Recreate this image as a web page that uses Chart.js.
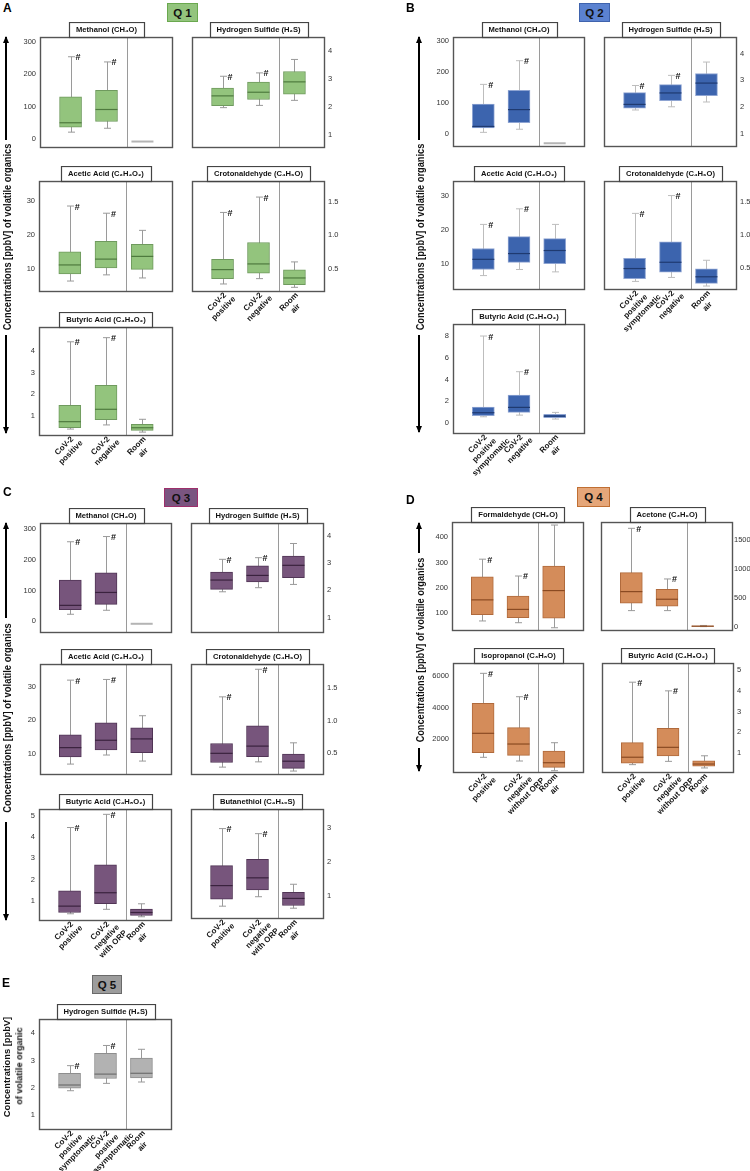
<!DOCTYPE html>
<html>
<head>
<meta charset="utf-8">
<script src="https://cdn.jsdelivr.net/npm/chart.js@4.4.1/dist/chart.umd.min.js"></script>
<style>
  body { margin: 0; background: #fff; width: 750px; height: 1171px; position: relative; overflow: hidden;
         font-family: "Liberation Sans", Arial, sans-serif; }
  canvas { position: absolute; }
  .abs { position: absolute; white-space: nowrap; }
  .letter { font-weight: bold; font-size: 12px; line-height: 12px; color: #000; }
  .qbox { display: flex; align-items: center; justify-content: center; font-weight: bold; font-size: 11.5px;
          box-sizing: border-box; border: 1.5px solid; color: #111; }
  .ylab { font-weight: bold; font-size: 10px; line-height: 10px; color: #111; }
</style>
</head>
<body>
<script>
// categories (x labels)
const catsPosNeg = [["CoV-2", "positive"], ["CoV-2", "negative"], ["Room", "air"]];
const catsSymNeg = [["CoV-2", "positive", "symptomatic"], ["CoV-2", "negative"], ["Room", "air"]];
const catsWithOrp = [["CoV-2", "positive"], ["CoV-2", "negative", "with ORP"], ["Room", "air"]];
const catsWithoutOrp = [["CoV-2", "positive"], ["CoV-2", "negative", "without ORP"], ["Room", "air"]];
const catsSymAsym = [["CoV-2", "positive", "symptomatic"], ["CoV-2", "positive", "asymptomatic"], ["Room", "air"]];

// boxes: [min, q1, median, q3, max] for each group
// Q1
const q1Methanol = [[21, 36, 50, 130, 254], [33, 54, 91, 150, 238], [-8, -8, -8, -8, -8]];
const q1H2S = [[1.98, 2.05, 2.40, 2.68, 3.10], [2.06, 2.27, 2.53, 2.89, 3.22], [2.24, 2.46, 2.90, 3.27, 3.70]];
const q1Acetic = [[6.5, 8.6, 11.2, 15.0, 28.4], [8.3, 10.3, 12.9, 18.1, 26.3], [7.4, 9.9, 13.7, 17.2, 21.3]];
const q1Croton = [[0.27, 0.35, 0.485, 0.64, 1.34], [0.35, 0.43, 0.57, 0.89, 1.57], [0.22, 0.26, 0.36, 0.48, 0.60]];
const q1Butyric = [[0.40, 0.46, 0.74, 1.49, 4.42], [0.59, 0.83, 1.31, 2.41, 4.61], [0.26, 0.34, 0.46, 0.62, 0.85]];
// Q2
const q2Methanol = [[6, 20, 25, 97, 160], [16, 37, 79, 141, 236], [-29, -29, -29, -29, -29]];
const q2H2S = [[1.89, 1.96, 2.10, 2.54, 2.81], [2.01, 2.24, 2.53, 2.84, 3.19], [2.19, 2.43, 2.90, 3.26, 3.69]];
const q2Acetic = [[6.6, 8.4, 11.4, 14.6, 21.7], [8.4, 10.5, 13.1, 18.1, 26.3], [7.7, 10.1, 14.0, 17.5, 21.7]];
const q2Croton = [[0.30, 0.34, 0.495, 0.65, 1.33], [0.36, 0.44, 0.59, 0.90, 1.60], [0.23, 0.27, 0.37, 0.49, 0.62]];
const q2Butyric = [[0.58, 0.67, 0.95, 1.47, 7.98], [0.73, 0.98, 1.44, 2.57, 4.71], [0.37, 0.49, 0.64, 0.80, 0.98]];
// Q3
const q3Methanol = [[23, 38, 52, 134, 259], [36, 55, 94, 158, 276], [-8, -8, -8, -8, -8]];
const q3H2S = [[1.95, 2.04, 2.38, 2.67, 3.14], [2.10, 2.31, 2.55, 2.90, 3.20], [2.22, 2.47, 2.92, 3.26, 3.72]];
const q3Acetic = [[7.0, 9.1, 11.9, 15.7, 32.0], [9.7, 11.2, 14.1, 19.3, 32.2], [7.9, 10.4, 14.5, 17.8, 21.4]];
const q3Croton = [[0.29, 0.36, 0.50, 0.65, 1.36], [0.37, 0.45, 0.61, 0.92, 1.78], [0.23, 0.27, 0.38, 0.49, 0.66]];
const q3Butyric = [[0.39, 0.45, 0.75, 1.47, 4.45], [0.60, 0.86, 1.38, 2.69, 5.07], [0.25, 0.31, 0.45, 0.61, 0.86]];
const q3Butanethiol = [[0.69, 0.90, 1.30, 1.89, 2.99], [0.97, 1.17, 1.53, 2.08, 2.84], [0.63, 0.71, 0.92, 1.10, 1.34]];
// Q4
const q4Formaldehyde = [[67, 92, 151, 243, 313], [60, 80, 113, 166, 246], [40, 78, 188, 286, 449]];
const q4Acetone = [[277, 405, 606, 934, 1702], [277, 353, 474, 647, 825], [0, 3, 7, 12, 20]];
const q4Isopropanol = [[865, 1158, 2381, 4276, 6170], [632, 990, 1705, 2737, 4694], [19, 234, 524, 1263, 1788]];
const q4Butyric = [[0.42, 0.49, 0.78, 1.49, 4.42], [0.58, 0.84, 1.26, 2.18, 4.00], [0.26, 0.35, 0.45, 0.61, 0.85]];
// Q5
const q5H2S = [[1.89, 1.98, 2.10, 2.53, 2.81], [2.16, 2.34, 2.50, 3.26, 3.55], [2.21, 2.36, 2.53, 3.09, 3.41]];

// "#" marks (significant groups)
const hashMarks = [true, true, false];

// y tick labels
const yt0to300 = ["0", "100", "200", "300"];
const yt1to4 = ["1", "2", "3", "4"];
const yt10to30 = ["10", "20", "30"];
const ytCroton = ["0.5", "1.0", "1.5"];
const yt0to8 = ["0", "2", "4", "6", "8"];
const yt1to5 = ["1", "2", "3", "4", "5"];
const yt1to3 = ["1", "2", "3"];
const yt100to400 = ["100", "200", "300", "400"];
const yt0to1500 = ["0", "500", "1000", "1500"];
const yt2000to6000 = ["2000", "4000", "6000"];

const FONT = "'Liberation Sans', Arial, sans-serif";

const palettes = {
  q1: { fill: "#93c47d", border: "#6f9a5e", median: "#4e7a3e", whisker: "#9a9a9a", qfill: "#93c47d", qborder: "#6aa84f" },
  q2: { fill: "#3c64ae", border: "#8ea4d2", median: "#1f3a70", whisker: "#bdbdbd", qfill: "#5b82d0", qborder: "#3f63ad" },
  q3: { fill: "#77557c", border: "#513556", median: "#3a223e", whisker: "#9a9a9a", qfill: "#7a5580", qborder: "#9e2f6b" },
  q4: { fill: "#d48c5a", border: "#b06a3c", median: "#8a4a22", whisker: "#9a9a9a", qfill: "#e5a679", qborder: "#c06f33" },
  q5: { fill: "#b2b2b2", border: "#8e8e8e", median: "#6e6e6e", whisker: "#9a9a9a", qfill: "#9c9c9c", qborder: "#6a6a6a" }
};

// panel layout: frame = plot box in page pixels
const panels = [
  { title: "Methanol (CH₄O)", box: q1Methanol, frame: [40, 37, 173, 148], side: "left", y: [-28, 315], ticks: yt0to300, pal: "q1" },
  { title: "Hydrogen Sulfide (H₂S)", box: q1H2S, frame: [192, 37, 325, 148], side: "right", y: [0.54, 4.5], ticks: yt1to4, pal: "q1" },
  { title: "Acetic Acid (C₂H₄O₂)", box: q1Acetic, frame: [39, 181, 173, 292], side: "left", y: [3.3, 35.7], ticks: yt10to30, pal: "q1" },
  { title: "Crotonaldehyde (C₄H₆O)", box: q1Croton, frame: [192, 181, 325, 292], side: "right", y: [0.15, 1.81], ticks: ytCroton, pal: "q1", cats: catsPosNeg },
  { title: "Butyric Acid (C₄H₈O₂)", box: q1Butyric, frame: [39, 327, 173, 436], side: "left", y: [0.08, 5.1], ticks: yt1to4, pal: "q1", cats: catsPosNeg },

  { title: "Methanol (CH₄O)", box: q2Methanol, frame: [453, 37, 585, 147], side: "left", y: [-41, 312], ticks: yt0to300, pal: "q2" },
  { title: "Hydrogen Sulfide (H₂S)", box: q2H2S, frame: [604, 37, 737, 147], side: "right", y: [0.5, 4.63], ticks: yt1to4, pal: "q2" },
  { title: "Acetic Acid (C₂H₄O₂)", box: q2Acetic, frame: [453, 181, 585, 290], side: "left", y: [2.35, 34.5], ticks: yt10to30, pal: "q2" },
  { title: "Crotonaldehyde (C₄H₆O)", box: q2Croton, frame: [604, 181, 737, 290], side: "right", y: [0.17, 1.82], ticks: ytCroton, pal: "q2", cats: catsSymNeg },
  { title: "Butyric Acid (C₄H₈O₂)", box: q2Butyric, frame: [453, 324, 585, 434], side: "left", y: [-1.0, 9.08], ticks: yt0to8, pal: "q2", cats: catsSymNeg },

  { title: "Methanol (CH₄O)", box: q3Methanol, frame: [40, 523, 172, 633], side: "left", y: [-38, 320], ticks: yt0to300, pal: "q3" },
  { title: "Hydrogen Sulfide (H₂S)", box: q3H2S, frame: [191, 523, 324, 633], side: "right", y: [0.44, 4.47], ticks: yt1to4, pal: "q3" },
  { title: "Acetic Acid (C₂H₄O₂)", box: q3Acetic, frame: [40, 664, 172, 775], side: "left", y: [3.75, 36.8], ticks: yt10to30, pal: "q3" },
  { title: "Crotonaldehyde (C₄H₆O)", box: q3Croton, frame: [191, 664, 324, 775], side: "right", y: [0.17, 1.86], ticks: ytCroton, pal: "q3" },
  { title: "Butyric Acid (C₄H₈O₂)", box: q3Butyric, frame: [39, 809, 172, 921], side: "left", y: [0.05, 5.32], ticks: yt1to5, pal: "q3", cats: catsWithOrp },
  { title: "Butanethiol (C₄H₁₀S)", box: q3Butanethiol, frame: [191, 809, 324, 919], side: "right", y: [0.31, 3.57], ticks: yt1to3, pal: "q3", cats: catsWithOrp },

  { title: "Formaldehyde (CH₂O)", box: q4Formaldehyde, frame: [452, 522, 584, 631], side: "left", y: [27, 461], ticks: yt100to400, pal: "q4" },
  { title: "Acetone (C₃H₆O)", box: q4Acetone, frame: [601, 522, 733, 631], side: "right", y: [-76, 1811], ticks: yt0to1500, pal: "q4", tickPad: 1 },
  { title: "Isopropanol (C₃H₈O)", box: q4Isopropanol, frame: [453, 663, 584, 773], side: "left", y: [-126, 6822], ticks: yt2000to6000, pal: "q4", cats: catsWithoutOrp },
  { title: "Butyric Acid (C₄H₈O₂)", box: q4Butyric, frame: [602, 663, 734, 773], side: "right", y: [0.015, 5.35], ticks: yt1to5, pal: "q4", cats: catsWithoutOrp },

  { title: "Hydrogen Sulfide (H₂S)", box: q5H2S, frame: [39, 1019, 172, 1130], side: "left", y: [0.45, 4.52], ticks: yt1to4, pal: "q5", cats: catsSymAsym }
];

const TITLE_SIZE = 7.6;

// whiskers, medians, "#" marks, frame, title box and slanted group labels
function boxPlugin(p, pal) {
  return {
    id: "boxes",
    beforeDatasetsDraw(chart) {
      const { ctx, chartArea: a, scales: { x, y } } = chart;
      ctx.save();
      ctx.lineWidth = 1;
      ctx.strokeStyle = "#9a9a9a";
      const dx = Math.round(x.getPixelForValue(1.56)) + 0.5;
      ctx.beginPath(); ctx.moveTo(dx, a.top); ctx.lineTo(dx, a.bottom); ctx.stroke();
      ctx.strokeStyle = pal.whisker;
      p.box.forEach((b, i) => {
        if (b[1] === b[3]) return;
        const cx = Math.round(x.getPixelForValue(i)) + 0.5;
        const lo = y.getPixelForValue(b[0]), hi = y.getPixelForValue(b[4]);
        ctx.beginPath();
        ctx.moveTo(cx, lo); ctx.lineTo(cx, hi);
        ctx.moveTo(cx - 3.5, lo); ctx.lineTo(cx + 3.5, lo);
        ctx.moveTo(cx - 3.5, hi); ctx.lineTo(cx + 3.5, hi);
        ctx.stroke();
      });
      ctx.restore();
    },
    afterDatasetsDraw(chart) {
      const { ctx, scales: { x, y } } = chart;
      ctx.save();
      p.box.forEach((b, i) => {
        const cx = x.getPixelForValue(i);
        const my = y.getPixelForValue(b[2]);
        if (b[1] === b[3]) {
          ctx.strokeStyle = "#b4b4b4"; ctx.lineWidth = 2;
        } else {
          ctx.strokeStyle = pal.median; ctx.lineWidth = 1.2;
        }
        ctx.beginPath(); ctx.moveTo(cx - 11, my); ctx.lineTo(cx + 11, my); ctx.stroke();
        if (hashMarks[i]) {
          ctx.fillStyle = "#111";
          ctx.font = "bold 9px " + FONT;
          ctx.textAlign = "left"; ctx.textBaseline = "middle";
          ctx.fillText("#", cx + 5, y.getPixelForValue(b[4]) + 1);
        }
      });
      ctx.restore();
    },
    afterDraw(chart) {
      const { ctx, chartArea: a, scales: { x } } = chart;
      ctx.save();
      ctx.strokeStyle = "#555"; ctx.lineWidth = 1.4;
      ctx.strokeRect(a.left + 0.5, a.top + 0.5, a.right - a.left - 1, a.bottom - a.top - 1);
      // box round the panel title
      const t = chart.titleBlock;
      ctx.font = "bold " + TITLE_SIZE + "px " + FONT;
      const w = ctx.measureText(p.title).width;
      const cx = (t.left + t.right) / 2;
      ctx.strokeStyle = "#444"; ctx.lineWidth = 1.2;
      ctx.strokeRect(Math.round(cx - w / 2 - 7) + 0.5, t.top + 0.5, Math.round(w + 14), a.top - t.top);
      // slanted group labels, lines centred and stacked down-right
      if (p.cats) {
        ctx.font = "bold 8px " + FONT;
        ctx.fillStyle = "#111"; ctx.textAlign = "center"; ctx.textBaseline = "middle";
        p.cats.forEach((lines, i) => {
          const tx = x.getPixelForValue(i);
          lines.forEach((s, j) => {
            ctx.save();
            ctx.translate(tx - 5.5 + j * 6.6, a.bottom + 10 + j * 6.6);
            ctx.rotate(-Math.PI / 4);
            ctx.fillText(s, 0, 0);
            ctx.restore();
          });
        });
      }
      ctx.restore();
    }
  };
}

function makePanel(p) {
  const [x0, y0, x1, y1] = p.frame;
  const pal = palettes[p.pal];
  const AX = p.side === "left" ? 36 : 30;
  const padL = p.side === "left" ? 0 : 14;
  const padR = p.side === "left" ? 6 : 0;
  const TH = 15;
  const padB = p.cats ? 56 : 2;
  const left = x0 - (p.side === "left" ? AX : padL);
  const width = (x1 - x0) + AX + padL + padR;
  const top = y0 - TH;
  const height = TH + (y1 - y0) + padB;

  const cv = document.createElement("canvas");
  cv.width = width; cv.height = height;
  cv.style.left = left + "px"; cv.style.top = top + "px";
  cv.style.width = width + "px"; cv.style.height = height + "px";
  document.body.appendChild(cv);

  new Chart(cv.getContext("2d"), {
    type: "bar",
    data: {
      datasets: [{
        data: p.box.map((b, i) => ({ x: i, y: [b[1], b[3]] })),
        backgroundColor: p.box.map(b => b[1] === b[3] ? "rgba(0,0,0,0)" : pal.fill),
        borderColor: p.box.map(b => b[1] === b[3] ? "rgba(0,0,0,0)" : pal.border),
        borderWidth: 1,
        borderSkipped: false,
        barThickness: 22
      }]
    },
    options: {
      responsive: false,
      animation: false,
      devicePixelRatio: 1,
      layout: { padding: { left: padL, right: padR, top: 0, bottom: padB } },
      plugins: {
        legend: { display: false },
        tooltip: { enabled: false },
        title: {
          display: true, text: p.title, fullSize: false, color: "#111",
          font: { family: FONT, size: TITLE_SIZE, weight: "bold", lineHeight: 1.2 },
          padding: { top: 3, bottom: 2.9 }
        }
      },
      scales: {
        x: {
          type: "linear", min: -0.85, max: 2.85, offset: false, display: false
        },
        y: {
          type: "linear", position: p.side, min: p.y[0], max: p.y[1],
          grid: { display: false, drawTicks: false }, border: { display: false },
          afterBuildTicks: s => { s.ticks = p.ticks.map(t => ({ value: Number(t) })); },
          afterFit: s => { s.width = AX; s.paddingTop = 0; s.paddingBottom = 0; },
          ticks: {
            padding: p.tickPad !== undefined ? p.tickPad : (p.side === "left" ? 4 : 3),
            color: "#333", font: { family: FONT, size: 7.5 },
            callback: (v, i) => p.ticks[i]
          }
        }
      }
    },
    plugins: [boxPlugin(p, pal)]
  });
}

panels.forEach(makePanel);

// page decorations: panel letters, Q boxes, y-axis labels and arrows
function addDiv(cls, text, css) {
  const d = document.createElement("div");
  d.className = "abs " + cls;
  d.textContent = text;
  Object.assign(d.style, css);
  document.body.appendChild(d);
  return d;
}

[["A", 3, 2], ["B", 406, 2], ["C", 3, 486], ["D", 406, 494], ["E", 2, 977]].forEach(([t, x, y]) =>
  addDiv("letter", t, { left: x + "px", top: y + "px" }));

[["Q 1", "q1", 167, 3, 31, 19], ["Q 2", "q2", 579, 3, 31, 19], ["Q 3", "q3", 164, 488, 34, 19],
 ["Q 4", "q4", 577, 487, 33, 20], ["Q 5", "q5", 92, 975, 30, 19]].forEach(([t, k, x, y, w, h]) =>
  addDiv("qbox", t, { left: x + "px", top: y + "px", width: w + "px", height: h + "px",
                      background: palettes[k].qfill, borderColor: palettes[k].qborder }));

function yLabel(text, cx, cy, len, size) {
  const d = addDiv("ylab", text, { left: cx + "px", top: cy + "px" });
  if (size) { d.style.fontSize = size + "px"; d.style.lineHeight = size + "px"; }
  const k = len / d.offsetWidth;
  d.style.transformOrigin = "0 0";
  d.style.transform = "rotate(-90deg) scaleX(" + k + ") translate(-50%, -50%)";
}

function arrow(x, yA, yB, up) {
  addDiv("", "", { left: (x - 0.7) + "px", top: yA + "px", width: "1.4px", height: (yB - yA) + "px", background: "#000" });
  const head = { left: (x - 3) + "px", width: 0, height: 0, borderLeft: "3px solid transparent", borderRight: "3px solid transparent" };
  if (up) { head.top = (yA - 1) + "px"; head.borderBottom = "7px solid #000"; }
  else { head.top = (yB - 6) + "px"; head.borderTop = "7px solid #000"; }
  addDiv("", "", head);
}

const yTitle = "Concentrations [ppbV] of volatile organics";
yLabel(yTitle, 8, 237, 187); arrow(6, 37, 140, true); arrow(6, 335, 433, false);
yLabel(yTitle, 421, 237, 187); arrow(419, 37, 140, true); arrow(419, 335, 432, false);
yLabel(yTitle, 8, 718, 190); arrow(6, 523, 618, true); arrow(6, 822, 920, false);
yLabel(yTitle, 421, 650, 185); arrow(419, 523, 553, true); arrow(419, 748, 771, false);
yLabel("Concentrations [ppbV]", 7, 1067, 100, 9.5);
yLabel("of volatile organic", 19, 1066, 77, 9.5);
</script>
</body>
</html>
